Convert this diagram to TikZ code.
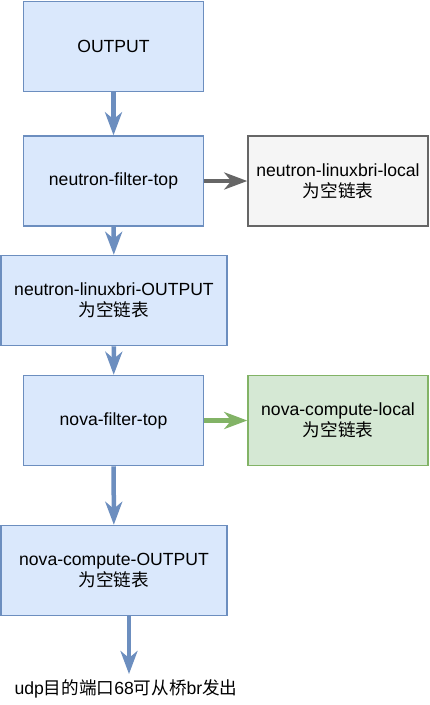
\documentclass[tikz,border=0pt]{standalone}
\usepackage{fontspec}
\setmainfont{Liberation Sans}
\newfontfamily\cjk{Noto Sans CJK SC}
\usetikzlibrary{arrows.meta}
\definecolor{bluefill}{HTML}{DAE8FC}
\definecolor{blueline}{HTML}{6C8EBF}
\definecolor{grayfill}{HTML}{F5F5F5}
\definecolor{grayline}{HTML}{666666}
\definecolor{greenfill}{HTML}{D5E8D4}
\definecolor{greenline}{HTML}{82B366}
\tikzset{
  box/.style={draw, line width=1.5pt, inner sep=0pt, minimum height=90pt,
    align=center, font=\fontsize{17.6}{21}\selectfont},
  bluebox/.style={box, fill=bluefill, draw=blueline},
  graybox/.style={box, fill=grayfill, draw=grayline},
  greenbox/.style={box, fill=greenfill, draw=greenline},
  conn/.style={line width=4.5pt, -{Stealth[length=23pt,width=17pt,inset=7pt]}},
}
\begin{document}
\begin{tikzpicture}[x=1pt,y=-1pt]
\useasboundingbox (0,0) rectangle (429,705);
\node[bluebox, minimum width=180pt] (A) at (113.5,46.5) {OUTPUT};
\node[bluebox, minimum width=180pt] (B) at (113.5,181) {neutron-filter-top};
\node[graybox, minimum width=180pt] (Bl) at (338,181) {neutron-linuxbri-local\\{\cjk 为空链表}};
\node[bluebox, minimum width=226pt] (C) at (114,300.5) {neutron-linuxbri-OUTPUT\\{\cjk 为空链表}};
\node[bluebox, minimum width=180pt] (D) at (113.5,420.5) {nova-filter-top};
\node[greenbox, minimum width=180pt] (Dl) at (338,420.5) {nova-compute-local\\{\cjk 为空链表}};
\node[bluebox, minimum width=226pt] (E) at (114,570.5) {nova-compute-OUTPUT\\{\cjk 为空链表}};
\node[font=\fontsize{17.6}{21}\selectfont, inner sep=0pt] (T) at (126,689)
  {udp{\cjk 目的端口}68{\cjk 可从桥}br{\cjk 发出}};
\coordinate (tip) at (129,674);
\draw[conn, draw=blueline] (A) -- (B);
\draw[conn, draw=blueline] (B) -- (C);
\draw[conn, draw=blueline] (C) -- (D);
\draw[conn, draw=blueline] (D) -- (E);
\draw[conn, draw=grayline] (B) -- (Bl);
\draw[conn, draw=greenline] (D) -- (Dl);
\draw[conn, draw=blueline] (E.south -| tip) -- (tip);
\end{tikzpicture}
\end{document}
